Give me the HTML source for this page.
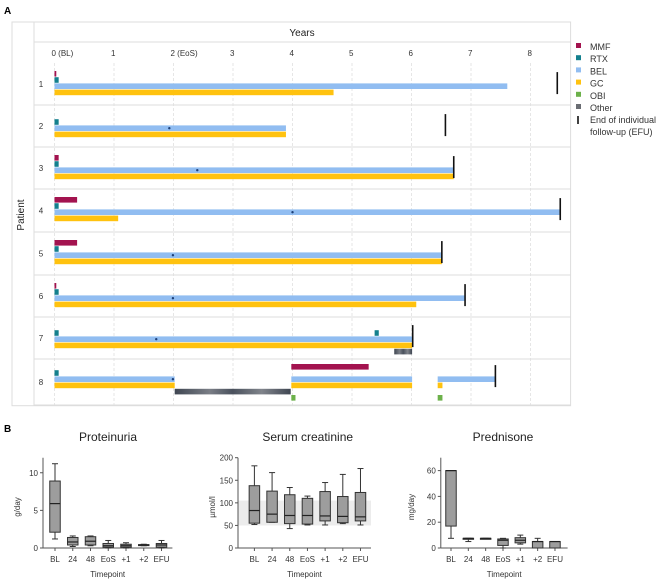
<!DOCTYPE html>
<html><head><meta charset="utf-8">
<style>
html,body{margin:0;padding:0;background:#fff;}
svg{display:block;font-family:"Liberation Sans",sans-serif;}
</style></head>
<body>
<svg id="fig" width="662" height="582" viewBox="0 0 662 582" xmlns="http://www.w3.org/2000/svg">
<defs>
<linearGradient id="otherGrad" x1="0" x2="1" y1="0" y2="0">
<stop offset="0" stop-color="#3f4652"/><stop offset="0.3" stop-color="#7a7e86"/><stop offset="0.5" stop-color="#4a515d"/><stop offset="0.75" stop-color="#80848b"/><stop offset="1" stop-color="#3f4652"/>
</linearGradient>
</defs>
<text x="4" y="14" font-size="10" font-weight="bold">A</text>
<text x="4" y="432" font-size="10" font-weight="bold">B</text>
<g id="ganttG"></g>
<g id="legendG"></g>
<g id="boxG"></g>
</svg>
<script>
const NS="http://www.w3.org/2000/svg";
function mk(tag,attrs,parent,text){const e=document.createElementNS(NS,tag);for(const k in attrs)e.setAttribute(k,attrs[k]);if(text!==undefined)e.textContent=text;parent.appendChild(e);return e;}

// ---------- Panel A data ----------
const patients=["1","2","3","4","5","6","7","8"];
const yearTicks=[0,1,2,3,4,5,6,7,8];
const yearTickLabels=["0 (BL)","1","2 (EoS)","3","4","5","6","7","8"];
// [patientIndex, start, end]
const mmfSpans=[[0,0,0.03],[2,0,0.07],[3,0,0.38],[4,0,0.38],[5,0,0.03],[7,3.98,5.28]];
const rtxSpans=[[0,0,0.07],[1,0,0.07],[2,0,0.07],[3,0,0.07],[4,0,0.07],[5,0,0.07],[6,0,0.07],[6,5.38,5.45],[7,0,0.07]];
const belSpans=[[0,0,7.61],[1,0,3.89],[2,0,6.71],[3,0,8.5],[4,0,6.51],[5,0,6.9],[6,0,6.01],[7,0,2.02],[7,3.98,6.01],[7,6.44,7.41]];
const gcSpans=[[0,0,4.69],[1,0,3.89],[2,0,6.71],[3,0,1.07],[4,0,6.51],[5,0,6.08],[6,0,6.01],[7,0,2.02],[7,3.98,6.01],[7,6.44,6.52]];
const otherSpans=[[6,5.71,6.01],[7,2.02,3.97]];
const obiSpans=[[7,3.98,4.05],[7,6.44,6.52]];
const belStars=[[1,1.93],[2,2.4],[3,4.0],[4,1.99],[5,1.99],[6,1.71],[7,1.99]];
const efuYears=[8.45,6.57,6.71,8.5,6.51,6.9,6.02,7.41];

const gx=v=>54.5+v*59.5;
const rowTops=[63,105,147,189,232,275,317,359];
const rowBottom=405;
const laneBase=[8,8,8,8,8,8,7,5];
const laneStep=6.2;
const laneIdx={MMF:0,RTX:1,BEL:2,GC:3,Other:4,OBI:5};
const colors={MMF:"#a3134f",RTX:"#13808e",BEL:"#91bdf1",GC:"#ffc20f",OBI:"#6cb14a",Other:"url(#otherGrad)"};

const G=document.getElementById("ganttG");
// frame
let e=mk("rect",{x:12,y:22,width:558.6,height:383.7,fill:"none",stroke:"#ddd","stroke-width":1},G);


e=mk("line",{x1:34,y1:22,x2:34,y2:405.7,stroke:"#ddd"},G);


e=mk("line",{x1:34,y1:42,x2:570.6,y2:42,stroke:"#ddd"},G);


e=mk("text",{x:302,y:36,"font-size":10,"text-anchor":"middle",fill:"#222"},G,"Years");


e=mk("text",{x:0,y:0,"font-size":10,"text-anchor":"middle",fill:"#222",transform:"translate(24,215) rotate(-90)"},G,"Patient");


yearTicks.forEach((t,i)=>{
  const g=mk("line",{x1:gx(t),y1:63,x2:gx(t),y2:405,stroke:"#e6e6e6","stroke-dasharray":"3,2"},G);
  
  
  const tx=mk("text",{x:gx(t)-3,y:56,"font-size":8,fill:"#333"},G,yearTickLabels[i]);
  
  
});
patients.forEach((p,i)=>{
  const bottom=i<7?rowTops[i+1]:rowBottom;
  const l=mk("line",{x1:34,y1:bottom,x2:570.6,y2:bottom,stroke:"#ddd"},G);
  
  
  const t=mk("text",{x:41,y:(rowTops[i]+bottom)/2+3,"font-size":8,fill:"#333","text-anchor":"middle"},G,p);
  
  
});
function drawSpans(spans,key){
  spans.forEach(s=>{
    const y=rowTops[s[0]]+laneBase[s[0]]+laneIdx[key]*laneStep;
    const r=mk("rect",{x:gx(s[1]),y:y,width:Math.max(1.5,gx(s[2])-gx(s[1])),height:5.6,fill:colors[key]},G);
    
    
  });
}
drawSpans(mmfSpans,"MMF");drawSpans(rtxSpans,"RTX");drawSpans(belSpans,"BEL");drawSpans(gcSpans,"GC");drawSpans(otherSpans,"Other");drawSpans(obiSpans,"OBI");
belStars.forEach(s=>{
  const y=rowTops[s[0]]+laneBase[s[0]]+2*laneStep+2.8;
  const c=mk("circle",{cx:gx(s[1]),cy:y,r:1.2,fill:"#1d3f77"},G);
  
  
});
efuYears.forEach((v,i)=>{
  const top=rowTops[i]+laneBase[i]+laneStep*0.5;
  const l=mk("line",{x1:gx(v),y1:top-2,x2:gx(v),y2:top+20,stroke:"#111","stroke-width":1.6},G);
  
  
});

// legend
const L=document.getElementById("legendG");
const legendItems=[["MMF","#a3134f"],["RTX","#13808e"],["BEL","#91bdf1"],["GC","#ffc20f"],["OBI","#6cb14a"],["Other","#6a6d73"]];
legendItems.forEach((it,i)=>{
  const y=47+i*12.2;
  const r=mk("rect",{x:576,y:y-4,width:5,height:5,fill:it[1]},L);
  
  
  const t=mk("text",{x:590,y:y+3,"font-size":9,fill:"#333"},L,it[0]);
  
  
});
e=mk("line",{x1:578,y1:116,x2:578,y2:124,stroke:"#111","stroke-width":1.6},L);


e=mk("text",{x:590,y:123,"font-size":9,fill:"#333"},L,"End of individual");


e=mk("text",{x:590,y:135,"font-size":9,fill:"#333"},L,"follow-up (EFU)");



// ---------- Panel B data ----------
const timepoints=["BL","24","48","EoS","+1","+2","EFU"];
// [whiskerLow, q1, median, q3, whiskerHigh]
const protVals=[[1.2,2.1,5.9,8.9,11.2],[0.2,0.4,0.8,1.4,1.6],[0.3,0.4,0.9,1.5,1.6],[0,0.1,0.3,0.6,1.0],[0,0.1,0.3,0.5,0.7],[0.3,0.35,0.4,0.45,0.5],[0,0.1,0.4,0.6,1.0]];
const creatVals=[[52,55,83,138,182],[57,57,75,126,167],[43,54,72,118,134],[51,53,72,110,115],[51,60,71,125,145],[54,56,70,114,163],[51,60,69,123,176]];
const predVals=[[7.5,17,60,60,60],[5,7,7.5,7.5,7.5],[7,7,7.5,7.5,7.5],[0,2,6,7,7.5],[3,4,6,8,10],[0,0,5,5,7.5],[0,0,5,5,5]];
const protTicks=[0,5,10];
const creatTicks=[0,50,100,150,200];
const predTicks=[0,20,40,60];

const B=document.getElementById("boxG");
function boxChart(cfg){
  const g=mk("g",{},B);
  
  
  const y0=548,yTop=457.7;
  const sy=v=>y0-(v-cfg.min)/(cfg.max-cfg.min)*(y0-yTop);
  const sx=i=>cfg.x0+i*cfg.step;
  let t=mk("text",{x:cfg.titleX,y:441,"font-size":12,"text-anchor":"middle",fill:"#222"},g,cfg.title);
  
  
  if(cfg.band){
    const r=mk("rect",{x:cfg.axisX,y:sy(cfg.band[1]),width:cfg.axisEnd-cfg.axisX,height:sy(cfg.band[0])-sy(cfg.band[1]),fill:"#ececec"},g);
    
    
  }
  let a=mk("line",{x1:cfg.axisX,y1:yTop,x2:cfg.axisX,y2:y0,stroke:"#555"},g);
  
  
  a=mk("line",{x1:cfg.axisX,y1:y0,x2:cfg.axisEnd,y2:y0,stroke:"#555"},g);
  
  
  cfg.ticks.forEach(v=>{
    const l=mk("line",{x1:cfg.axisX-3,y1:sy(v),x2:cfg.axisX,y2:sy(v),stroke:"#555"},g);
    
    
    const tx=mk("text",{x:cfg.axisX-5,y:sy(v)+3,"font-size":8,"text-anchor":"end",fill:"#333"},g,String(v));
    
    
  });
  timepoints.forEach((tp,i)=>{
    const l=mk("line",{x1:sx(i),y1:y0,x2:sx(i),y2:y0+3,stroke:"#555"},g);
    
    
    const tx=mk("text",{x:sx(i),y:562,"font-size":8,"text-anchor":"middle",fill:"#333"},g,tp);
    
    
    const d=cfg.data[i];const w=10.5;
    const wh=mk("line",{x1:sx(i),y1:sy(d[0]),x2:sx(i),y2:sy(d[4]),stroke:"#333","stroke-width":1},g);
    
    
    [d[0],d[4]].forEach(v=>{
      const c=mk("line",{x1:sx(i)-3,y1:sy(v),x2:sx(i)+3,y2:sy(v),stroke:"#333"},g);
      
      
    });
    const bx=mk("rect",{x:sx(i)-w/2,y:sy(d[3]),width:w,height:Math.max(1,sy(d[1])-sy(d[3])),fill:"#9d9d9d",stroke:"#333","stroke-width":1},g);
    
    
    const md=mk("line",{x1:sx(i)-w/2,y1:sy(d[2]),x2:sx(i)+w/2,y2:sy(d[2]),stroke:"#222","stroke-width":1.2},g);
    
    
  });
  t=mk("text",{x:(cfg.axisX+cfg.axisEnd)/2,y:577,"font-size":8,"text-anchor":"middle",fill:"#333"},g,"Timepoint");
  
  
  t=mk("text",{x:0,y:0,"font-size":8,"text-anchor":"middle",fill:"#333",transform:`translate(${cfg.yTitleX},${cfg.yTitleY}) rotate(-90)`},g,cfg.unit);
  
  
}
boxChart({name:"proteinuria-chart",title:"Proteinuria",titleX:108,data:protVals,ticks:protTicks,min:0,max:12,axisX:43,axisEnd:172.4,x0:55,step:17.75,unit:"g/day",yTitleX:20,yTitleY:507});
boxChart({name:"serum-creatinine-chart",title:"Serum creatinine",titleX:307.7,data:creatVals,ticks:creatTicks,min:0,max:200,axisX:238,axisEnd:371,x0:254.4,step:17.68,unit:"µmol/l",yTitleX:215,yTitleY:507,band:[50,105]});
boxChart({name:"prednisone-chart",title:"Prednisone",titleX:503,data:predVals,ticks:predTicks,min:0,max:70,axisX:440.8,axisEnd:567.6,x0:451,step:17.33,unit:"mg/day",yTitleX:414,yTitleY:507});
</script>
</body></html>
